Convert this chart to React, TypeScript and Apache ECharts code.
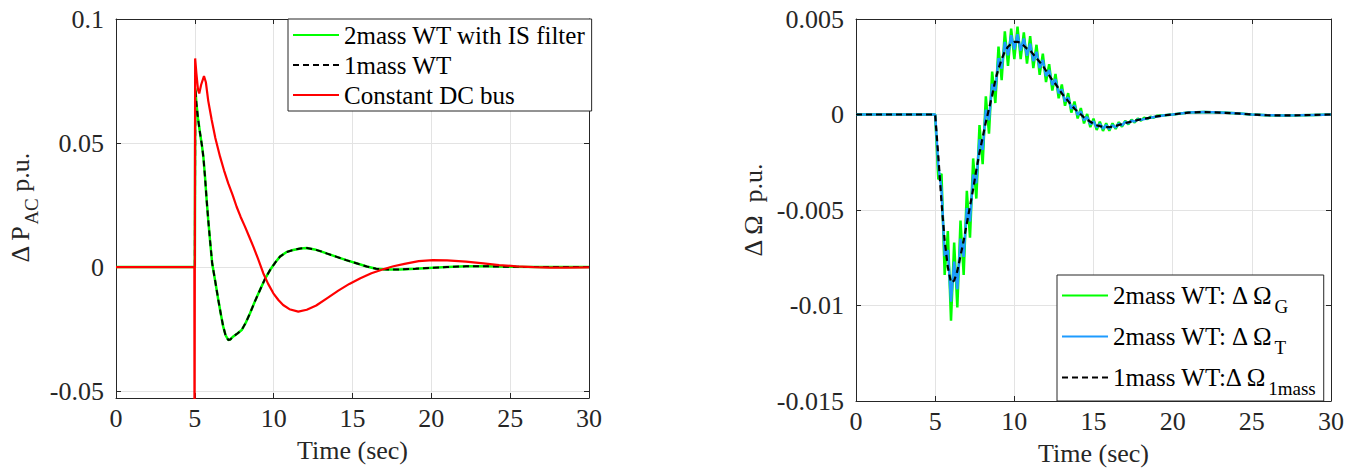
import { useEffect, useRef } from "react";
import * as echarts from "echarts";

// ---- Left panel: AC power deviation (p.u.) vs time (s) ----
const pAcTwoMass: [number, number][] = [
  [0, 0], [5.0, 0], [5.03, 0.072], [5.1, 0.066], [5.2, 0.06], [5.33, 0.054], [5.45, 0.049],
  [5.54, 0.0445], [5.65, 0.036], [5.75, 0.027], [5.85, 0.019], [5.96, 0.011], [6.1, 0.0015],
  [6.28, -0.0052], [6.49, -0.0133], [6.65, -0.019], [6.8, -0.024], [6.95, -0.0275],
  [7.12, -0.0294], [7.25, -0.0292], [7.44, -0.028], [7.7, -0.0268], [7.97, -0.0254],
  [8.25, -0.0222], [8.5, -0.0186], [8.8, -0.014], [9.13, -0.0093], [9.45, -0.0048],
  [9.77, -0.0012], [10.1, 0.0018], [10.4, 0.0042], [10.8, 0.006], [11.24, 0.0069],
  [11.7, 0.0075], [12.1, 0.0077], [12.6, 0.0071], [13.0, 0.0063], [13.4, 0.0054],
  [14.0, 0.0041], [14.6, 0.0028], [15.3, 0.0014], [15.9, 0.0002], [16.5, -0.0007],
  [17.2, -0.001], [18.0, -0.001], [19.0, -0.0007], [20.1, -0.0003], [21.0, 0.0],
  [22.2, 0.0003], [23.5, 0.0003], [25.0, 0.0001], [27.0, 0], [30.0, 0],
];
const pAcOneMass: [number, number][] = pAcTwoMass.map((p) => [p[0], p[1]]);
const pAcConstantDc: [number, number][] = [
  [0, 0], [4.97, 0], [4.98, -0.08], [5.02, 0.0841], [5.1, 0.078], [5.2, 0.0715], [5.28, 0.07],
  [5.4, 0.0735], [5.58, 0.077], [5.7, 0.0745], [5.85, 0.067], [6.07, 0.0593], [6.3, 0.052],
  [6.6, 0.0445], [6.85, 0.039], [7.12, 0.0337], [7.4, 0.029], [7.65, 0.0243], [7.9, 0.0203],
  [8.18, 0.0163], [8.45, 0.0122], [8.71, 0.0082], [9.0, 0.0035], [9.34, -0.0025],
  [9.65, -0.0068], [9.98, -0.0106], [10.3, -0.0133], [10.6, -0.0153], [11.0, -0.017],
  [11.56, -0.018], [12.1, -0.0172], [12.7, -0.0155], [13.4, -0.0125], [14.1, -0.0095],
  [14.8, -0.0068], [15.5, -0.0045], [16.2, -0.0025], [17.0, -0.0008], [17.6, 0.0003],
  [18.3, 0.0013], [19.2, 0.0024], [20.1, 0.0028], [21.0, 0.0027], [22.2, 0.0022],
  [23.3, 0.0015], [24.3, 0.0008], [25.4, 0.0003], [26.5, 0], [27.5, -0.0002],
  [28.6, -0.0002], [30.0, -0.0001],
];

// ---- Right panel: speed deviation (p.u.) vs time (s) ----
const omegaGenerator: [number, number][] = [
  [0, 0], [5.0, 0], [5.2, -0.0034], [5.4, -0.0031], [5.6, -0.0084], [5.8, -0.0061],
  [6.0, -0.0108], [6.2, -0.0067], [6.4, -0.0101], [6.6, -0.00555], [6.8, -0.0084],
  [7.0, -0.004], [7.2, -0.00645], [7.4, -0.0023], [7.6, -0.0044], [7.8, -0.00055],
  [8.0, -0.0026], [8.2, 0.00095], [8.4, -0.001], [8.6, 0.00225], [8.8, 0.0006],
  [9.0, 0.00355], [9.2, 0.0018], [9.4, 0.00435], [9.6, 0.00255], [9.8, 0.0045],
  [10.0, 0.0029], [10.2, 0.0046], [10.4, 0.0029], [10.6, 0.0043], [10.8, 0.00267],
  [11.0, 0.0041], [11.2, 0.00243], [11.4, 0.00365], [11.6, 0.00208], [11.8, 0.00319],
  [12.0, 0.0017], [12.2, 0.00263], [12.4, 0.00125], [12.6, 0.00212], [12.8, 0.00085],
  [13.0, 0.00157], [13.2, 0.00046], [13.4, 0.00112], [13.6, 0.0001], [13.8, 0.00068],
  [14.0, -0.00021], [14.2, 0.00034], [14.4, -0.00047], [14.6, 0.00003], [14.8, -0.00066],
  [15.0, -0.00022], [15.2, -0.00081], [15.4, -0.00038], [15.6, -0.00086], [15.8, -0.00046],
  [16.0, -0.00085], [16.2, -0.00046], [16.4, -0.00076], [16.6, -0.0004], [16.8, -0.00064],
  [17.0, -0.00033], [17.2, -0.00052], [17.4, -0.00027], [17.6, -0.00042], [17.8, -0.00021],
  [18.0, -0.00032], [18.2, -0.00016], [18.4, -0.00024], [18.6, -0.00012], [18.8, -0.00017],
  [19.0, -0.00007], [19.5, -0.00004], [20.0, 0], [21.0, 0.0001], [22.0, 0.00013],
  [23.0, 0.0001], [24.0, 0.00006], [25.0, 0], [26.0, -0.00004], [27.0, -0.00005],
  [28.0, -0.00004], [29.0, -0.00002], [30.0, 0],
];
const omegaTurbine: [number, number][] = [
  [0, 0], [5.0, 0], [5.2, -0.0027], [5.4, -0.0039], [5.6, -0.0074], [5.8, -0.0071],
  [6.0, -0.0098], [6.2, -0.0077], [6.4, -0.00915], [6.6, -0.0065], [6.8, -0.00745],
  [7.0, -0.0049], [7.2, -0.0056], [7.4, -0.00315], [7.6, -0.0036], [7.8, -0.0013],
  [8.0, -0.00185], [8.2, 0.00025], [8.4, -0.0003], [8.6, 0.0016], [8.8, 0.00125],
  [9.0, 0.00295], [9.2, 0.0024], [9.4, 0.0038], [9.6, 0.0031], [9.8, 0.00415],
  [10.0, 0.0034], [10.2, 0.0042], [10.4, 0.00335], [10.6, 0.00398], [10.8, 0.00308],
  [11.0, 0.00371], [11.2, 0.0028], [11.4, 0.00328], [11.6, 0.00243], [11.8, 0.00285],
  [12.0, 0.00201], [12.2, 0.00233], [12.4, 0.00154], [12.6, 0.00185], [12.8, 0.00111],
  [13.0, 0.00132], [13.2, 0.00069], [13.4, 0.0009], [13.6, 0.00031], [13.8, 0.00048],
  [14.0, -0.00002], [14.2, 0.00016], [14.4, -0.0003], [14.6, -0.00013], [14.8, -0.00051],
  [15.0, -0.00036], [15.2, -0.00068], [15.4, -0.0005], [15.6, -0.00074], [15.8, -0.00056],
  [16.0, -0.00075], [16.2, -0.00056], [16.4, -0.00068], [16.6, -0.00048], [16.8, -0.00057],
  [17.0, -0.00039], [17.2, -0.00046], [17.4, -0.00033], [17.6, -0.00037], [17.8, -0.00026],
  [18.0, -0.00028], [18.5, -0.00018], [19.0, -0.0001], [19.5, -0.00004], [20.0, 0],
  [21.0, 0.0001], [22.0, 0.00013], [23.0, 0.0001], [24.0, 0.00006], [25.0, 0],
  [26.0, -0.00004], [27.0, -0.00005], [28.0, -0.00004], [29.0, -0.00002], [30.0, 0],
];
const omegaOneMass: [number, number][] = [
  [0, 0], [5.0, 0], [5.2, -0.0022], [5.4, -0.0046], [5.6, -0.0066], [5.8, -0.008],
  [6.0, -0.0088], [6.2, -0.0087], [6.4, -0.0082], [6.6, -0.0074], [6.8, -0.0066],
  [7.0, -0.0057], [7.2, -0.0048], [7.4, -0.0039], [7.6, -0.0029], [7.8, -0.002],
  [8.0, -0.0012], [8.2, -0.0004], [8.4, 0.0003], [8.6, 0.001], [8.8, 0.0018],
  [9.0, 0.0024], [9.2, 0.0029], [9.4, 0.0033], [9.6, 0.00355], [9.8, 0.0037],
  [10.0, 0.0038], [10.2, 0.0038], [10.4, 0.00375], [10.6, 0.0036], [10.8, 0.00345],
  [11.0, 0.00335], [11.2, 0.00315], [11.4, 0.00295], [11.6, 0.00275], [11.8, 0.00255],
  [12.0, 0.0023], [12.2, 0.00205], [12.4, 0.0018], [12.6, 0.0016], [12.8, 0.00135],
  [13.0, 0.0011], [13.2, 0.0009], [13.4, 0.0007], [13.6, 0.0005], [13.8, 0.0003],
  [14.0, 0.00015], [14.2, 0], [14.4, -0.00015], [14.6, -0.00027], [14.8, -0.00038],
  [15.0, -0.00048], [15.2, -0.00056], [15.4, -0.00061], [15.6, -0.00064], [15.8, -0.00066],
  [16.0, -0.00066], [16.2, -0.00064], [16.4, -0.0006], [16.6, -0.00055], [16.8, -0.0005],
  [17.0, -0.00045], [17.5, -0.00035], [18.0, -0.00025], [18.5, -0.00018], [19.0, -0.0001],
  [19.5, -0.00004], [20.0, 0], [21.0, 0.0001], [22.0, 0.00013], [23.0, 0.0001],
  [24.0, 0.00006], [25.0, 0], [26.0, -0.00004], [27.0, -0.00005], [28.0, -0.00004],
  [29.0, -0.00002], [30.0, 0],
];

const leftLegend = ["2mass WT with IS filter", "1mass WT", "Constant DC bus"];
const rightLegend = ["2mass WT: Δ Ω_G", "2mass WT: Δ Ω_T", "1mass WT:Δ Ω_1mass"];

const FONT = "'Liberation Serif', 'Times New Roman', Times, serif";
const AXIS_COLOR = "#262626";
const GRID_COLOR = "#e3e3e3";
const DASH = [6, 4];

function xAxes(gridIndex: number) {
  const common = {
    type: "value" as const,
    gridIndex,
    min: 0,
    max: 30,
    interval: 5,
    axisLine: { onZero: false, lineStyle: { color: AXIS_COLOR, width: 1 } },
    axisTick: { inside: true, length: 5, lineStyle: { color: AXIS_COLOR } },
  };
  return [
    {
      ...common,
      position: "bottom",
      axisLabel: { margin: 7, fontSize: 26, fontFamily: FONT, color: AXIS_COLOR },
      splitLine: { show: true, lineStyle: { color: GRID_COLOR, width: 1 } },
      name: "Time (sec)",
      nameLocation: "middle",
      nameGap: 39,
      nameTextStyle: { fontSize: 26, fontFamily: FONT, color: AXIS_COLOR },
    },
    { ...common, position: "top", axisLabel: { show: false }, splitLine: { show: false } },
  ];
}

function yAxes(gridIndex: number, range: { min: number; max: number; step: number }) {
  const onStep = (v: number) => Math.abs(v / range.step - Math.round(v / range.step)) < 1e-6;
  const common = {
    type: "value" as const,
    gridIndex,
    min: range.min,
    max: range.max,
    splitNumber: Math.round((range.max - range.min) / range.step),
    minInterval: range.step,
    maxInterval: range.step,
    axisLine: { onZero: false, lineStyle: { color: AXIS_COLOR, width: 1 } },
    axisTick: { inside: true, length: 5, lineStyle: { color: AXIS_COLOR } },
  };
  return [
    {
      ...common,
      position: "left",
      axisLabel: {
        margin: 12,
        fontSize: 26,
        fontFamily: FONT,
        color: AXIS_COLOR,
        showMinLabel: onStep(range.min),
        formatter: (v: number) => (onStep(v) ? String(+v.toFixed(4)) : ""),
      },
      splitLine: { show: true, lineStyle: { color: GRID_COLOR, width: 1 } },
    },
    { ...common, position: "right", axisLabel: { show: false }, splitLine: { show: false } },
  ];
}

const subRich = {
  sub: { fontSize: 19, fontFamily: FONT, lineHeight: 19, padding: [22, 0, 0, 1] },
};

export default function App() {
  const ref = useRef<HTMLDivElement>(null);

  useEffect(() => {
    if (!ref.current) return;
    const chart = echarts.init(ref.current, undefined, { renderer: "svg" });

    const line = (
      name: string,
      data: [number, number][],
      axis: number,
      color: string,
      width: number,
      dashed = false
    ) => ({
      name,
      type: "line",
      xAxisIndex: axis,
      yAxisIndex: axis,
      data,
      symbol: "none",
      smooth: false,
      clip: true,
      lineStyle: { color, width, type: dashed ? DASH : "solid" },
      itemStyle: { color },
      emphasis: { disabled: true },
    });

    chart.setOption({
      animation: false,
      backgroundColor: "#ffffff",
      grid: [
        { left: 116, top: 19, width: 473, height: 379 },
        { left: 856, top: 19, width: 475, height: 382 },
      ],
      xAxis: [...xAxes(0), ...xAxes(1)],
      yAxis: [
        ...yAxes(0, { min: -0.0528, max: 0.1, step: 0.05 }),
        ...yAxes(1, { min: -0.015, max: 0.005, step: 0.005 }),
      ],
      legend: [
        {
          data: leftLegend,
          orient: "vertical",
          left: 288,
          top: 19,
          itemWidth: 46,
          itemHeight: 10,
          itemGap: 0,
          padding: [1, 6, 1, 4],
          borderColor: AXIS_COLOR,
          borderWidth: 1,
          borderRadius: 0,
          backgroundColor: "#ffffff",
          selectedMode: false,
          itemStyle: { opacity: 0 },
          textStyle: { fontSize: 25, fontFamily: FONT, color: "#000", lineHeight: 30 },
        },
        {
          data: rightLegend,
          orient: "vertical",
          left: 1057,
          top: 275,
          itemWidth: 46,
          itemHeight: 10,
          itemGap: 0,
          padding: [0, 8, 3, 4],
          borderColor: AXIS_COLOR,
          borderWidth: 1,
          borderRadius: 0,
          backgroundColor: "#ffffff",
          selectedMode: false,
          itemStyle: { opacity: 0 },
          formatter: (name: string) => name.replace(/_(\w+)$/, "{sub|$1}"),
          textStyle: {
            fontSize: 25,
            fontFamily: FONT,
            color: "#000",
            lineHeight: 30,
            rich: subRich,
          },
        },
      ],
      graphic: [
        {
          type: "text",
          x: 20,
          y: 208,
          rotation: Math.PI / 2,
          style: {
            text: "Δ P{sub|AC} p.u.",
            fontSize: 26,
            fontFamily: FONT,
            fill: AXIS_COLOR,
            align: "center",
            verticalAlign: "middle",
            rich: { sub: { ...subRich.sub, fill: AXIS_COLOR } },
          },
        },
        {
          type: "text",
          x: 753,
          y: 210,
          rotation: Math.PI / 2,
          style: {
            text: "Δ Ω  p.u.",
            fontSize: 26,
            fontFamily: FONT,
            fill: AXIS_COLOR,
            align: "center",
            verticalAlign: "middle",
          },
        },
      ],
      series: [
        line(leftLegend[0], pAcTwoMass, 0, "#00ff00", 2.5),
        line(leftLegend[1], pAcOneMass, 0, "#000000", 2, true),
        line(leftLegend[2], pAcConstantDc, 0, "#ff0000", 2.2),
        line(rightLegend[0], omegaGenerator, 2, "#00ff00", 2.5),
        line(rightLegend[1], omegaTurbine, 2, "#1e9bff", 2.5),
        line(rightLegend[2], omegaOneMass, 2, "#000000", 2.2, true),
      ],
    });

    return () => chart.dispose();
  }, []);

  return (
    <div
      ref={ref}
      style={{ position: "absolute", left: 0, top: 0, width: 1360, height: 475 }}
    />
  );
}
